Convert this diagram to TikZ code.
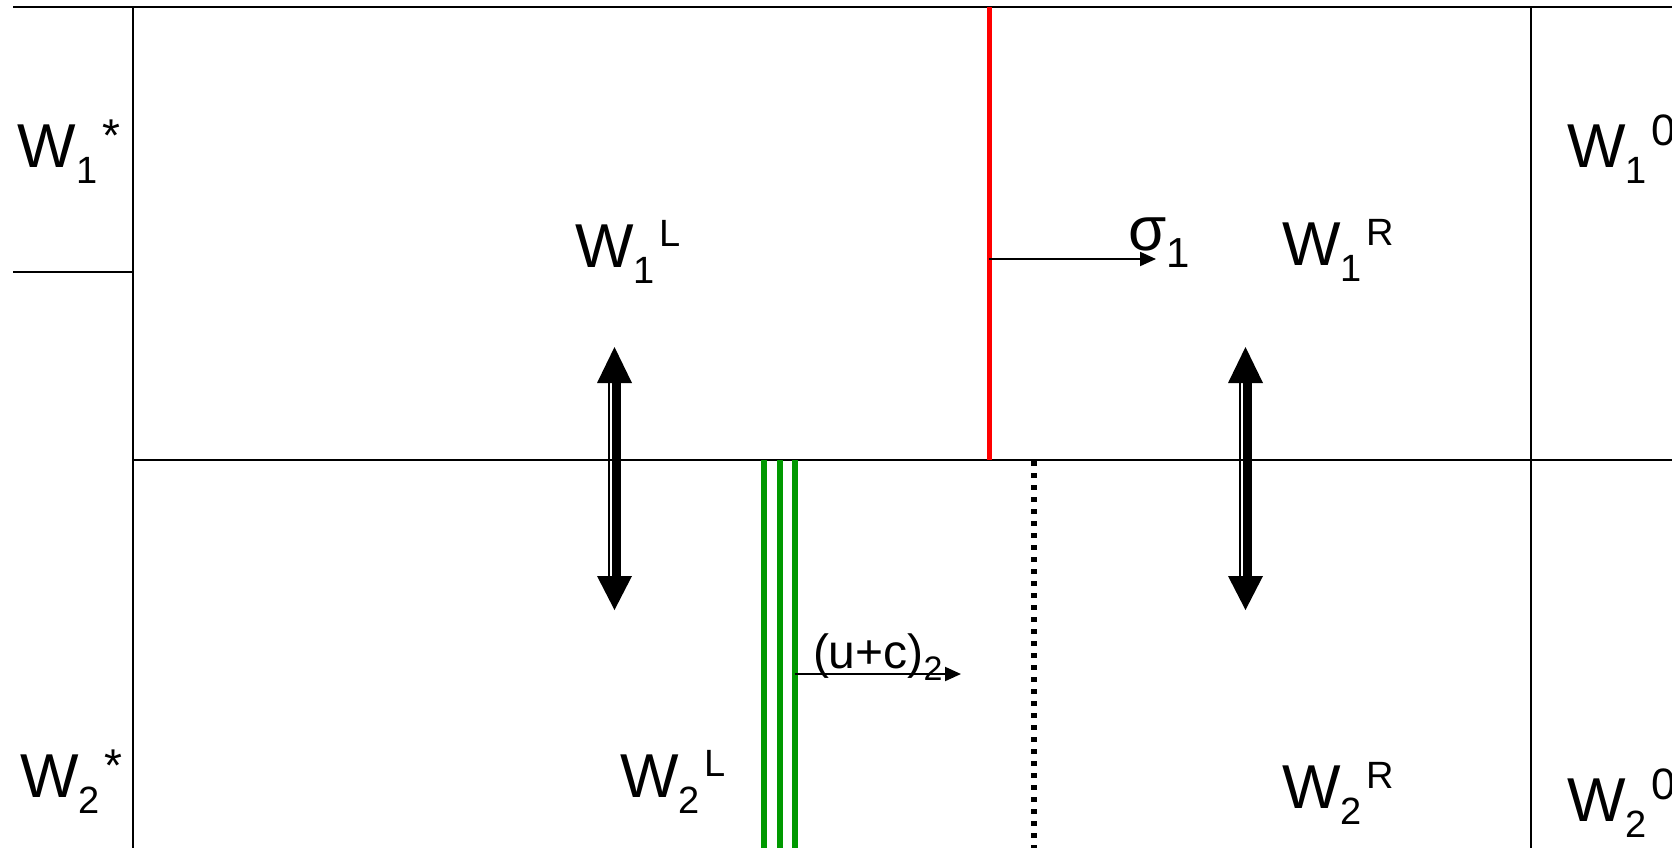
\documentclass[tikz,border=0pt]{standalone}
\usepackage{fontspec}
\setmainfont{Liberation Sans}
\usetikzlibrary{arrows.meta}
\definecolor{frgreen}{RGB}{0,153,0}
\definecolor{frred}{RGB}{255,0,0}
% #1 main, #2 sub, #3 sup, #4 sup raise, #5 sup size
\newcommand\wlab[5]{\fontsize{31}{31}\selectfont #1\raisebox{-8pt}{\fontsize{19}{19}\selectfont #2}\kern2.5pt\raisebox{#4}{\fontsize{#5}{#5}\selectfont #3}}
\newcommand\dblarrow[1]{%
  \fill (#1,347) -- (#1+17.5,383) -- (#1-17.5,383) -- cycle;
  \fill (#1,610) -- (#1+17.5,576) -- (#1-17.5,576) -- cycle;
  \draw[line width=4.5pt] (#1+2,383) -- (#1+2,576);
  \draw[line width=1pt] (#1-5.5,383) -- (#1-5.5,576);
}
\begin{document}
\begin{tikzpicture}[x=0.5pt,y=-0.5pt,
  frame/.style={line width=1pt,black},
  lab/.style={anchor=base west,inner sep=0pt,outer sep=0pt},
  flow/.style={line width=1pt,-{Triangle[length=8pt,width=7pt]}}]
\useasboundingbox (0,0) rectangle (1672,848);
% frame
\draw[frame] (13,7) -- (1672,7);
\draw[frame] (13,272) -- (133,272);
\draw[frame] (133,7) -- (133,848);
\draw[frame] (133,460) -- (1672,460);
\draw[frame] (1531,7) -- (1531,848);
% red shock
\draw[frred,line width=2.5pt] (989,7) -- (989,460);
% green rarefaction
\foreach \gx in {764,780,795}{\draw[frgreen,line width=2.8pt] (\gx,460) -- (\gx,848);}
% dotted contact
\draw[line width=2.7pt,dash pattern=on 2.7pt off 3.3pt] (1034,461) -- (1034,848);
% double arrows
\dblarrow{614.5}
\dblarrow{1245.5}
% speed arrows
\coordinate (s0) at (989,259);
\coordinate (s1) at (1156,259);
\draw[flow] (s0) -- (s1);
\coordinate (u0) at (795,674);
\coordinate (u1) at (961,674);
\draw[flow] (u0) -- (u1);
% labels
\node[lab] (w1s) at (18,167) {\wlab{W}{1}{*}{8pt}{23}};
\node[lab] (w2s) at (20,797) {\wlab{W}{2}{*}{8pt}{23}};
\node[lab] (w1l) at (575,267) {\wlab{W}{1}{L}{10.5pt}{19}};
\node[lab] (w2l) at (620,797) {\wlab{W}{2}{L}{10.5pt}{19}};
\node[lab] (w1r) at (1282,265) {\wlab{W}{1}{R}{10pt}{19}};
\node[lab] (w2r) at (1282,808) {\wlab{W}{2}{R}{10pt}{19}};
\node[lab] (w10) at (1567,167) {\wlab{W}{1}{0}{11pt}{22}};
\node[lab] (w20) at (1567,821) {\wlab{W}{2}{0}{11pt}{22}};
\node[lab] (sig) at (1128,250) {\fontsize{31}{31}\selectfont σ\raisebox{-8.5pt}{\fontsize{21}{21}\selectfont 1}};
\node[lab] (uc) at (813,668) {\fontsize{24}{24}\selectfont (u+c)\raisebox{-6pt}{\fontsize{17}{17}\selectfont 2}};
\end{tikzpicture}
\end{document}
